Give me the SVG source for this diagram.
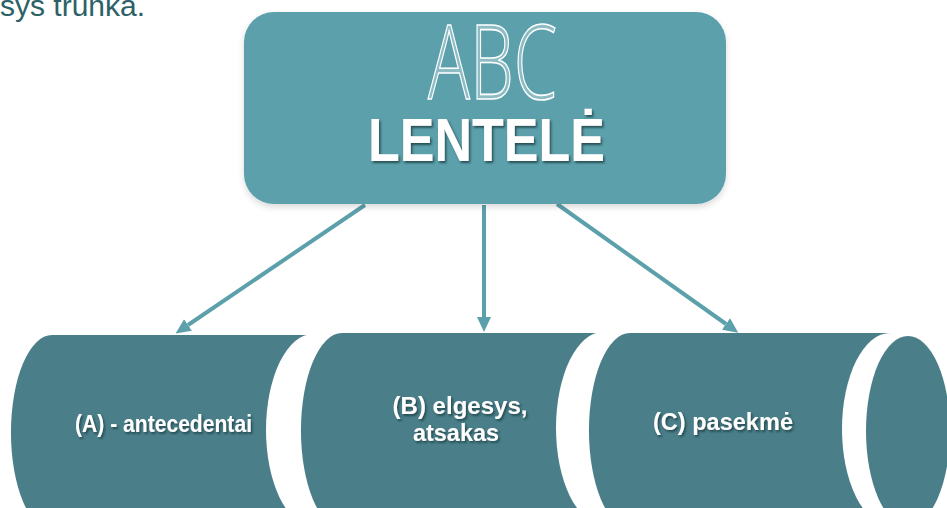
<svg xmlns="http://www.w3.org/2000/svg" width="947" height="508" viewBox="0 0 947 508">
  <defs>
    <style>
      .cyl { fill: #4a7f8a; }
      .cap { fill: #ffffff; }
      .face { fill: #4a7f8a; }
      .lbl { font-family: "Liberation Sans", Arial, sans-serif; font-weight: bold; font-size: 24px; fill: #ffffff; filter: url(#tshadow); }
      .conn { stroke: #5ca0ab; stroke-width: 4; fill: none; marker-end: url(#arr); }
    </style>
    <marker id="arr" markerUnits="userSpaceOnUse" markerWidth="16" markerHeight="16" refX="0" refY="7" orient="auto" viewBox="0 0 16 14">
      <path d="M0,0 L15,7 L0,14 Z" fill="#5ca0ab"/>
    </marker>
    <filter id="tshadow" x="-10%" y="-30%" width="120%" height="160%">
      <feDropShadow dx="1.5" dy="2" stdDeviation="1" flood-color="#1d3a40" flood-opacity="0.8"/>
    </filter>
    <filter id="bshadow" x="-5%" y="-5%" width="110%" height="115%">
      <feDropShadow dx="0" dy="3" stdDeviation="3" flood-color="#000000" flood-opacity="0.15"/>
    </filter>
  </defs>

  <rect width="947" height="508" fill="#ffffff"/>

  <text x="0" y="16" font-family="Liberation Sans, Arial, sans-serif" font-size="30" fill="#2d6168">sys trunka.</text>

  <g id="connectors">
    <line class="conn" x1="365" y1="205" x2="188" y2="325"/>
    <line class="conn" x1="484" y1="205" x2="484" y2="317"/>
    <line class="conn" x1="557" y1="204" x2="726" y2="324"/>
  </g>

  <g id="node-abc">
    <rect x="244" y="12" width="482" height="192" rx="30" ry="30" fill="#5ca0ab" filter="url(#bshadow)"/>
    <text x="428" y="99" font-family="Open Sans, DejaVu Sans, sans-serif" font-weight="300" font-size="104" textLength="129" lengthAdjust="spacingAndGlyphs" fill="#ffffff" fill-opacity="0.3" stroke="#ffffff" stroke-width="1.6">ABC</text>
    <text x="368" y="161" font-family="Liberation Sans, Arial, sans-serif" font-weight="bold" font-size="62" textLength="237" lengthAdjust="spacingAndGlyphs" fill="#ffffff" filter="url(#tshadow)">LENTELĖ</text>
  </g>

  <g id="node-a">
    <path class="cyl" d="M52,335 L313,335 L313,530 L52,530 A40,95 0 0 1 52,335 Z"/>
    <ellipse class="cap" cx="313" cy="430" rx="47" ry="96"/>
    <text class="lbl" x="75" y="432" textLength="177" lengthAdjust="spacingAndGlyphs">(A) - antecedentai</text>
  </g>

  <g id="node-b">
    <path class="cyl" d="M342,333 L603,333 L603,528 L342,528 A40,95 0 0 1 342,333 Z"/>
    <ellipse class="cap" cx="603" cy="428" rx="47" ry="96"/>
    <text class="lbl" x="460" y="414" text-anchor="middle" textLength="135" lengthAdjust="spacingAndGlyphs">(B) elgesys,</text>
    <text class="lbl" x="456" y="441" text-anchor="middle" textLength="86" lengthAdjust="spacingAndGlyphs">atsakas</text>
  </g>

  <g id="node-c">
    <path class="cyl" d="M630,333 L891,333 L891,528 L630,528 A40,95 0 0 1 630,333 Z"/>
    <ellipse class="cap" cx="890" cy="429" rx="48" ry="96"/>
    <ellipse class="face" cx="908" cy="431" rx="42" ry="95"/>
    <text class="lbl" x="653" y="430" textLength="140" lengthAdjust="spacingAndGlyphs">(C) pasekmė</text>
  </g>
</svg>
